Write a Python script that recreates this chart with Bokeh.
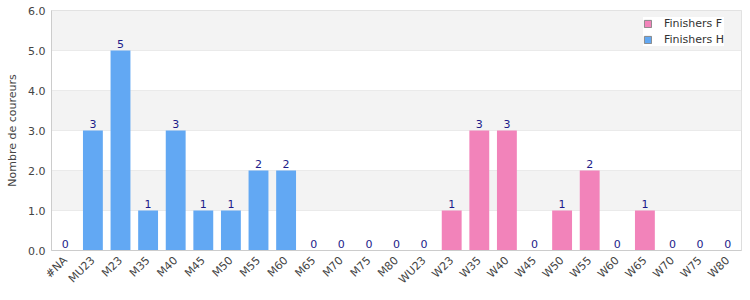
import math
from bokeh.plotting import figure
from bokeh.models import ColumnDataSource, FixedTicker, PrintfTickFormatter, Legend, LegendItem, Range1d, BoxAnnotation
from bokeh.core.properties import value
from bokeh.embed import file_html
from bokeh.resources import INLINE

categories = ["#NA", "MU23", "M23", "M35", "M40", "M45", "M50", "M55", "M60", "M65", "M70", "M75", "M80",
              "WU23", "W23", "W35", "W40", "W45", "W50", "W55", "W60", "W65", "W70", "W75", "W80"]
finishers_h = [0, 3, 5, 1, 3, 1, 1, 2, 2, 0, 0, 0, 0, 0, 0, 0, 0, 0, 0, 0, 0, 0, 0, 0, 0]
finishers_f = [0, 0, 0, 0, 0, 0, 0, 0, 0, 0, 0, 0, 0, 0, 1, 3, 3, 0, 1, 2, 0, 1, 0, 0, 0]
y_ticks = [0, 1, 2, 3, 4, 5, 6]

totals = [h + f for h, f in zip(finishers_h, finishers_f)]
src = ColumnDataSource(dict(cat=categories, h=finishers_h, f=finishers_f, tot=totals,
                            lab=[str(t) for t in totals]))

FONT = "DejaVu Sans"
BLUE = "#62a8f3"
PINK = "#f283ba"

p = figure(x_range=categories, y_range=Range1d(0, 6),
           output_backend="svg", toolbar_location=None,
           frame_width=690, frame_height=240,
           min_border_left=51, min_border_top=10, min_border_right=9, min_border_bottom=50)
p.background_fill_color = "white"
p.border_fill_color = "white"
p.outline_line_color = "#dddddd"

# alternating background bands
for lo in (1, 3, 5):
    p.add_layout(BoxAnnotation(bottom=lo, top=lo + 1, fill_color="#f3f3f3", fill_alpha=1.0,
                               line_color=None, level="underlay"))
p.ygrid.ticker = FixedTicker(ticks=y_ticks)
p.ygrid.grid_line_color = "#e0e0e0"
p.xgrid.grid_line_color = None

rh = p.vbar(x="cat", top="h", width=0.72, source=src, fill_color=BLUE, line_color=None)
rf = p.vbar(x="cat", top="f", width=0.72, source=src, fill_color=PINK, line_color=None)

p.text(x="cat", y="tot", text="lab", source=src, text_align="center", text_baseline="bottom",
       y_offset=-3, text_font=value(FONT), text_font_size="11px", text_color="#1c1c8a")

# legend proxies (not drawn in the plot: NaN heights)
nan = float("nan")
ef = p.vbar(x=["#NA"], top=[nan], width=0.5, fill_color=PINK, line_color="#888888")
eh = p.vbar(x=["#NA"], top=[nan], width=0.5, fill_color=BLUE, line_color="#888888")
legend = Legend(items=[LegendItem(label="Finishers F", renderers=[ef]),
                       LegendItem(label="Finishers H", renderers=[eh])],
                location=(592, 204), orientation="vertical",
                glyph_width=9, glyph_height=9, label_text_font=FONT, label_text_font_size="11px",
                label_text_color="#333333", label_height=12, spacing=3, padding=3, margin=0,
                background_fill_color="white", background_fill_alpha=1.0,
                border_line_color=None, label_standoff=12)
p.add_layout(legend, "center")

p.yaxis.ticker = FixedTicker(ticks=y_ticks)
p.yaxis.formatter = PrintfTickFormatter(format="%.1f")
p.yaxis.axis_label = "Nombre de coureurs"
p.yaxis.axis_label_text_font = FONT
p.yaxis.axis_label_text_font_style = "normal"
p.yaxis.axis_label_text_font_size = "11px"
p.yaxis.axis_label_text_color = "#444444"
p.yaxis.axis_label_standoff = 6
for ax in (p.xaxis, p.yaxis):
    ax.major_label_text_font = FONT
    ax.major_label_text_font_size = "11px"
    ax.major_label_text_color = "#444444"
    ax.axis_line_color = "#cccccc"
    ax.major_tick_line_color = None
    ax.minor_tick_line_color = None
    ax.major_tick_out = 0
    ax.major_tick_in = 0
    ax.major_label_standoff = 6
p.xaxis.major_label_standoff = 8
p.xaxis.major_label_orientation = math.pi / 4

open("out.html", "w").write(file_html(p, INLINE))
